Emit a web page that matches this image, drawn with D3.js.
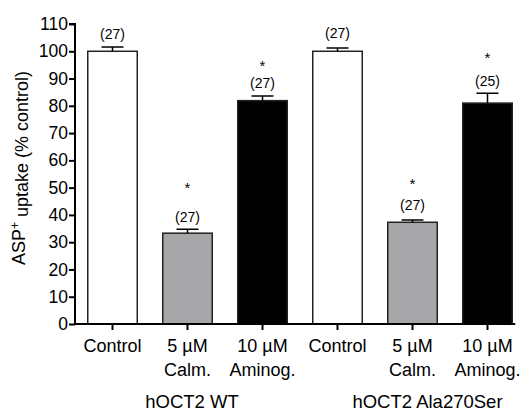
<!DOCTYPE html>
<html>
<head>
<meta charset="utf-8">
<script src="https://cdn.jsdelivr.net/npm/d3@7"></script>
<style>
    body { margin: 0; background: #fff; }
    text { font-family: "Liberation Sans", Arial, sans-serif; fill: #000; }
</style>
</head>
<body>
<div id="chart"></div>
<script>

// Data
let categories = ["wt-ctrl", "wt-calm", "wt-amino", "ala-ctrl", "ala-calm", "ala-amino"];
let tickLines = [["Control"], ["5 µM", "Calm."], ["10 µM", "Aminog."],
                 ["Control"], ["5 µM", "Calm."], ["10 µM", "Aminog."]];
let means = [100, 33.3, 81.9, 100, 37.3, 81.0];
let errTops = [101.6, 34.7, 83.6, 101.2, 38.1, 84.6];
let nLabels = ["(27)", "(27)", "(27)", "(27)", "(27)", "(25)"];
let nLabelLevel = [106.2, 39.3, 88.4, 106.6, 43.6, 89.1];
let starLevel = [null, 51.2, 95.8, null, 52.8, 99.0];
let fills = ["#ffffff", "#a7a7a9", "#000000", "#ffffff", "#a7a7a9", "#000000"];
let groups = ["hOCT2 WT", "hOCT2 Ala270Ser"];
let yTicks = d3.range(0, 111, 10);

let margin = {top: 24, left: 75};
let width = 450, height = 300;

let svg = d3.select("#chart").append("svg")
    .attr("width", 520)
    .attr("height", 412)
    .append("g")
    .attr("transform", "translate(" + margin.left + "," + margin.top + ")");

// scales
let x = d3.scaleBand()
    .domain(categories)
    .range([0, width])
    .paddingInner(0.34)
    .paddingOuter(0.17);

let y = d3.scaleLinear()
    .domain([0, 110])
    .range([height, 0]);

// y axis
let yAxis = d3.axisLeft(y).tickValues(yTicks).tickSize(6).tickPadding(1);
let gy = svg.append("g").call(yAxis);
gy.select(".domain").attr("stroke-width", 2).attr("d", "M-6," + y(110) + "H0V" + y(0));
gy.selectAll(".tick line").attr("stroke-width", 2);
gy.selectAll(".tick text").style("font-size", "17.5px").attr("fill", "#000");

// bars
svg.selectAll(".bar")
    .data(categories)
    .enter().append("rect")
    .attr("class", "bar")
    .attr("x", d => x(d))
    .attr("width", x.bandwidth())
    .attr("y", (d, i) => y(means[i]))
    .attr("height", (d, i) => y(0) - y(means[i]))
    .attr("fill", (d, i) => fills[i])
    .attr("stroke", "#222")
    .attr("stroke-width", 1.5);

// error bars
let capW = 11;
svg.selectAll(".err")
    .data(categories)
    .enter().append("path")
    .attr("class", "err")
    .attr("fill", "none")
    .attr("stroke", "#000")
    .attr("stroke-width", 1.5)
    .attr("d", (d, i) => {
        let cx = x(d) + x.bandwidth() / 2;
        return "M" + cx + "," + y(means[i]) + "V" + y(errTops[i]) +
            "M" + (cx - capW) + "," + y(errTops[i]) + "H" + (cx + capW);
    });

// n labels
svg.selectAll(".nlab")
    .data(categories)
    .enter().append("text")
    .attr("class", "nlab")
    .attr("x", d => x(d) + x.bandwidth() / 2)
    .attr("y", (d, i) => y(nLabelLevel[i]))
    .attr("dy", "0.35em")
    .attr("text-anchor", "middle")
    .style("font-size", "14px")
    .text((d, i) => nLabels[i]);

// significance stars
svg.selectAll(".star")
    .data(categories.filter((d, i) => starLevel[i] !== null))
    .enter().append("text")
    .attr("class", "star")
    .attr("x", d => x(d) + x.bandwidth() / 2)
    .attr("y", d => y(starLevel[categories.indexOf(d)]))
    .attr("dy", "0.58em")
    .attr("text-anchor", "middle")
    .style("font-size", "15px")
    .text("*");

// x axis line and ticks
let last = categories[categories.length - 1];
svg.append("path")
    .attr("fill", "none")
    .attr("stroke", "#000")
    .attr("stroke-width", 2)
    .attr("d", "M0," + y(0) + "H" + (x(last) + x.bandwidth() + 3));

svg.selectAll(".xtick")
    .data(categories)
    .enter().append("line")
    .attr("class", "xtick")
    .attr("x1", d => x(d) + x.bandwidth() / 2)
    .attr("x2", d => x(d) + x.bandwidth() / 2)
    .attr("y1", y(0))
    .attr("y2", y(0) + 6)
    .attr("stroke", "#000")
    .attr("stroke-width", 2);

let xl = svg.selectAll(".xlab")
    .data(categories)
    .enter().append("text")
    .attr("class", "xlab")
    .attr("text-anchor", "middle")
    .attr("transform", d => "translate(" + (x(d) + x.bandwidth() / 2) + "," + (height + 28) + ")")
    .style("font-size", "18px");
xl.selectAll("tspan")
    .data((d, i) => tickLines[i])
    .enter().append("tspan")
    .attr("x", 0)
    .attr("dy", (d, i) => i === 0 ? 0 : 24)
    .text(d => d);

// group labels, a little right of each group's middle bar
let groupShift = [4.5, 15];
svg.selectAll(".grp")
    .data(groups)
    .enter().append("text")
    .attr("class", "grp")
    .attr("text-anchor", "middle")
    .attr("x", (d, i) => x(categories[i * 3 + 1]) + x.bandwidth() / 2 + groupShift[i])
    .attr("y", height + 83.5)
    .style("font-size", "18.5px")
    .text(d => d);

// y axis title
let yt = svg.append("text")
    .attr("text-anchor", "middle")
    .attr("transform", "translate(-50," + (height / 2 - 6) + ") rotate(-90)")
    .style("font-size", "18px");
yt.append("tspan").text("ASP");
yt.append("tspan").attr("dy", "-0.5em").style("font-size", "12px").text("+");
yt.append("tspan").attr("dy", "0.5em").text(" uptake (% control)");

</script>
</body>
</html>
